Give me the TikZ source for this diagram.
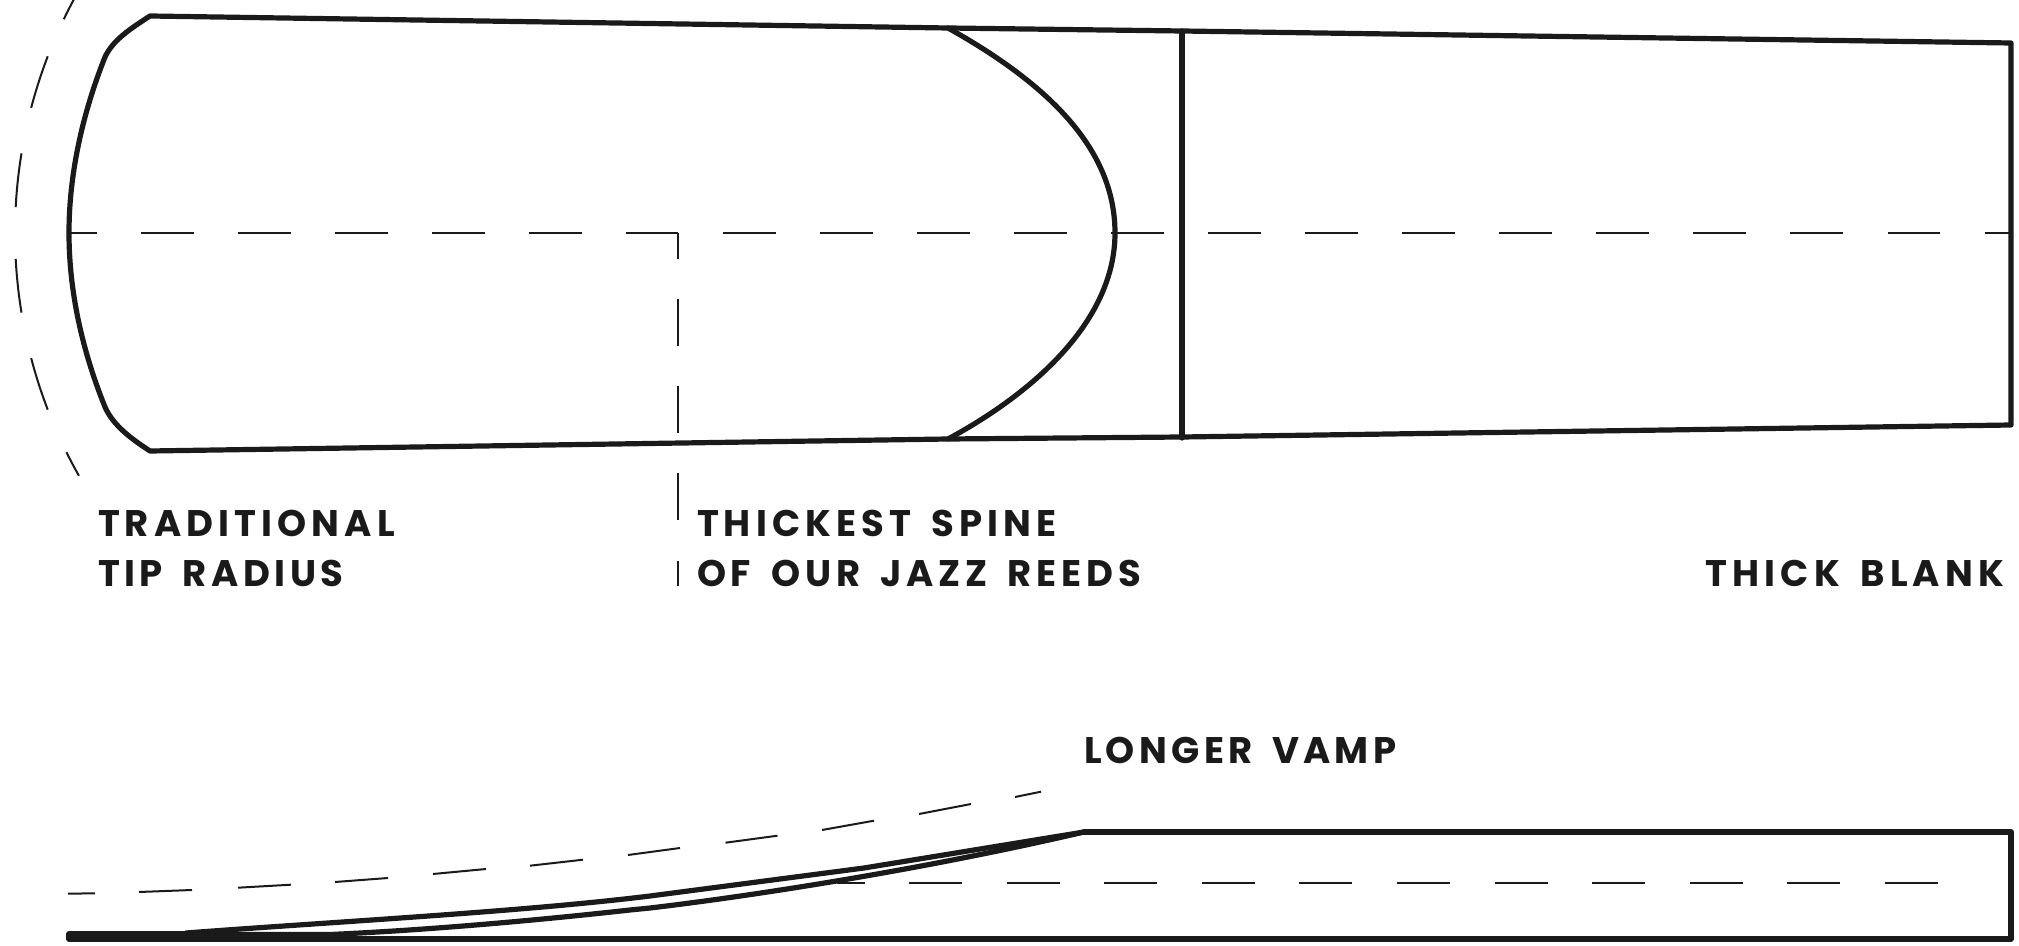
\documentclass[tikz,border=0pt]{standalone}
\usepackage{fontspec}
\setmainfont{Poppins}[WordSpace=1.6]
\definecolor{ink}{HTML}{1A1A1A}
\begin{document}
\begin{tikzpicture}[x=0.5pt,y=-0.5pt,
  outline/.style={draw=ink,line width=2.6pt,line join=round,line cap=round},
  fine/.style={draw=ink,line width=1pt},
  reedlabel/.style={text=ink,anchor=base west,inner sep=0pt,outer sep=0pt,font=\fontsize{18.5}{18.5}\selectfont\bfseries\addfontfeature{LetterSpace=#1}},
  reedlabel/.default=13.8]
\useasboundingbox (0,0) rectangle (2019,946);
% centre lines
\foreach \a/\b in {69/97,141/194,238/291,335/388,432/485,529/582,626/678,723/776,820/873,917/970,1014/1067,1111/1164,1208/1261,1305/1358,1402/1455,1499/1552,1596/1649,1693/1746,1790/1843,1888/1940,1985/2011}
  \draw[fine] (\a,233) -- (\b,233);
\foreach \a/\b in {233/259,299/346,386/433,473/520,561/586}
  \draw[fine] (678,\a) -- (678,\b);
% tip radius
\foreach \a/\b in {-33/-25.7,-21/-14.7,-9.3/-3,3/9.3,14.7/21,26.4/29.5}
  \draw[fine] plot[domain=\a:\b,samples=8,smooth] ({508-493*cos(\x)},{233+493*sin(\x)});
% reed outline
\draw[outline] (150,16) -- (948,28) -- (1182,31) -- (2011,43) -- (2011,425) -- (1182,437) -- (948,439) -- (150,451)
  .. controls (130,438) and (113,425) .. (105,407)
  .. controls (82,350) and (69,291) .. (69,233)
  .. controls (69,175) and (82,115) .. (105,57)
  .. controls (113,40) and (130,29) .. (150,16) -- cycle;
\draw[outline] (948,28) .. controls (1050,85) and (1115,150) .. (1115,233)
  .. controls (1115,320) and (1035,392) .. (948,439);
\draw[outline] (1182,31) -- (1182,438);
% profile
\draw[outline] (1084,832) -- (2011,832) -- (2011,939) -- (69,939) -- (69,934) -- (186,934);
\draw[outline] (186,933) .. controls (330,922) and (520,912) .. (650,896) -- (864,868) -- (1084,832);
\draw[outline] (186,934.5) -- (330,934.5) .. controls (430,930) and (540,920) .. (630,910) -- (650,908) .. controls (760,895) and (930,868) .. (1084,832);
\foreach \a in {909,1006.6,1104.2,1201.8,1299.4,1397,1494.6,1592.2,1689.8,1787.4,1885}
  \draw[fine] (\a,883) -- ++(53,0);
\draw[fine] (837,883) -- (865,883);
\draw[fine] plot[smooth] coordinates {(68,893.7) (95,893.3)};
\draw[fine] plot[smooth] coordinates {(139,892) (192,890)};
\draw[fine] plot[smooth] coordinates {(238,887.7) (291,884.7)};
\draw[fine] plot[smooth] coordinates {(335,882) (388,878)};
\draw[fine] plot[smooth] coordinates {(433,874) (486,869)};
\draw[fine] plot[smooth] coordinates {(530,865.7) (583,859.7)};
\draw[fine] plot[smooth] coordinates {(628,855) (680,848)};
\draw[fine] plot[smooth] coordinates {(725.5,842.7) (777.5,835.7)};
\draw[fine] plot[smooth] coordinates {(822,830) (874,820.7)};
\draw[fine] plot[smooth] coordinates {(919,814) (971,804)};
\draw[fine] plot[smooth] coordinates {(1015,797) (1041,791.7)};
% labels
\node[reedlabel] (t1) at (98,537) {TRADITIONAL};
\node[reedlabel=12.3] (t2) at (98,586) {TIP RADIUS};
\node[reedlabel] (t3) at (697,537) {THICKEST SPINE};
\node[reedlabel=13] (t4) at (697,586) {OF OUR JAZZ REEDS};
\node[reedlabel,anchor=base east] (t5) at (2004,586) {THICK BLANK};
\node[reedlabel=11.7] (t6) at (1084,763) {LONGER VAMP};
\end{tikzpicture}
\end{document}
